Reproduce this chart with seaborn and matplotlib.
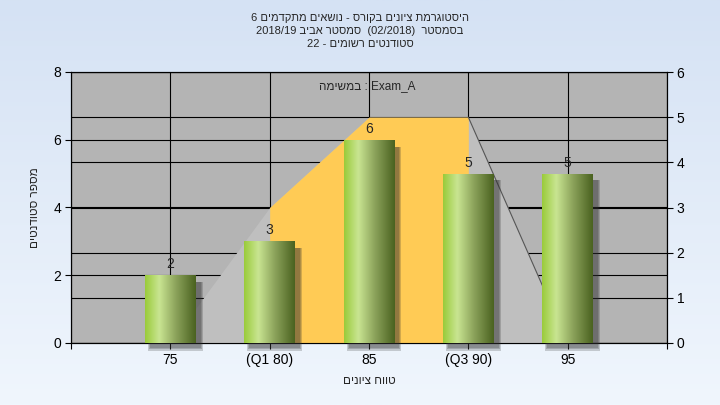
import re
import numpy as np
import matplotlib
matplotlib.use("Agg")
import matplotlib.pyplot as plt
import seaborn as sns
from matplotlib.colors import LinearSegmentedColormap
from matplotlib.patches import Rectangle

# --- data ---
grade_labels = ["75", "(Q1 80)", "85", "(Q3 90)", "95"]
student_counts = [2, 3, 6, 5, 5]          # left axis
curve_values = [0, 3, 5, 5, 0]            # right axis
q1_idx, q3_idx = 1, 3

title_lines = [
    "היסטוגרמת ציונים בקורס - נושאים מתקדמים 6",
    "בסמסטר  (02/2018)  סמסטר אביב 2018/19",
    "סטודנטים רשומים - 22",
]
task_text = "Exam_A : במשימה"
y_title = "מספר סטודנטים"
x_title = "טווח ציונים"
left_ticks = [0, 2, 4, 6, 8]
right_ticks = [0, 1, 2, 3, 4, 5, 6]


def visual(s):
    # matplotlib has no bidi: flip the string, keep latin/number runs readable
    r = s[::-1]
    r = re.sub(r"[A-Za-z0-9_/.]+", lambda m: m.group(0)[::-1], r)
    return r.translate(str.maketrans("()", ")("))


sns.set_style("white")
plt.rcParams['font.family'] = ['Liberation Sans', 'DejaVu Sans']

fig = plt.figure(figsize=(7.2, 4.05), dpi=100)

# background gradient
bg = fig.add_axes([0, 0, 1, 1], zorder=-10)
grad = np.linspace(0, 1, 256).reshape(-1, 1)
bg.imshow(grad, aspect="auto", extent=[0, 1, 0, 1], origin="upper",
          cmap=LinearSegmentedColormap.from_list("bg", ["#d5e2f4", "#f0f6fd"]))
bg.axis("off")

ax = fig.add_axes([71 / 720, 62 / 405, 596 / 720, 271 / 405])
ax.set_facecolor("#b4b4b4")
ax2 = ax.twinx()
ax3 = ax.twinx()

# --- overlay area (right axis) ---
xs = np.arange(len(curve_values))
ax2.fill_between(xs, curve_values, color="#bfbfbf", lw=0, zorder=1)
ax2.fill_between(xs[q1_idx:q3_idx + 1], curve_values[q1_idx:q3_idx + 1],
                 color="#ffcb55", lw=0, zorder=1.1)
ax2.plot(xs[q3_idx:q3_idx + 2], curve_values[q3_idx:q3_idx + 2],
         color="#555555", lw=0.8, zorder=1.2)

# --- bars (left axis) ---
sns.barplot(x=grade_labels, y=student_counts, ax=ax3, width=0.51,
            color="#9acb3a", saturation=1, edgecolor="none")

bar_cmap = LinearSegmentedColormap.from_list(
    "bar", [(0, "#9acb3a"), (0.28, "#c9e592"), (0.6, "#8da45c"), (1, "#4a6220")])
bar_grad = np.linspace(0, 1, 200).reshape(1, -1)
for p in list(ax3.patches):
    x0, w, h = p.get_x(), p.get_width(), p.get_height()
    for i in range(3):
        sh = Rectangle((x0 + 0.05 - i * 0.01, -0.15 - i * 0.04),
                       w + i * 0.02, h - 0.05 + i * 0.04,
                       color="#303030", alpha=0.22, lw=0, zorder=2, clip_on=False)
        ax3.add_patch(sh)
    im = ax3.imshow(bar_grad, extent=[x0, x0 + w, 0, h], aspect="auto",
                    cmap=bar_cmap, zorder=3, interpolation="bicubic")
    im.set_clip_path(p)
    p.set_facecolor("none")

for i, v in enumerate(student_counts):
    ax3.text(i, v + 0.12, str(v), ha="center", va="bottom", fontsize=10, zorder=4)

ax3.text(1.98, 7.58, visual(task_text), ha="center", va="center", fontsize=8.5, zorder=4)

# --- axes ---
ax.set_xlim(-1, len(grade_labels))
ax.set_xticks(range(-1, len(grade_labels) + 1))
ax.set_xticklabels([""] + grade_labels + [""])
ax.set_ylim(0, 8)
ax.set_yticks(left_ticks)
ax2.set_ylim(0, 6)
ax2.set_yticks(right_ticks)
ax3.set_ylim(0, 8)
ax3.axis("off")

ax.grid(True, color="black", lw=0.8)
ax2.yaxis.grid(True, color="black", lw=0.8)
ax2.xaxis.grid(False)
ax.set_axisbelow(True)
ax2.set_axisbelow(True)

ax.tick_params(axis="both", direction="out", length=4, width=0.8, colors="black",
               labelsize=10, bottom=True, left=True, pad=3)
ax2.tick_params(axis="y", direction="out", length=4, width=0.8, colors="black",
                labelsize=10, right=True, pad=3)
for a in (ax, ax2):
    for s in a.spines.values():
        s.set_color("black")
        s.set_linewidth(0.8)

ax.set_ylabel(visual(y_title), fontsize=8.5)
ax.yaxis.set_label_coords(-0.05, 0.5)
ax.set_xlabel(visual(x_title), fontsize=8.5)
ax.xaxis.set_label_coords(0.5, -0.118)

for k, line in enumerate(title_lines):
    fig.text(0.5, 1 - (18 + 13 * k) / 405, visual(line), ha="center", va="center",
             fontsize=8)

plt.savefig("out.png", dpi=100)
plt.close()
